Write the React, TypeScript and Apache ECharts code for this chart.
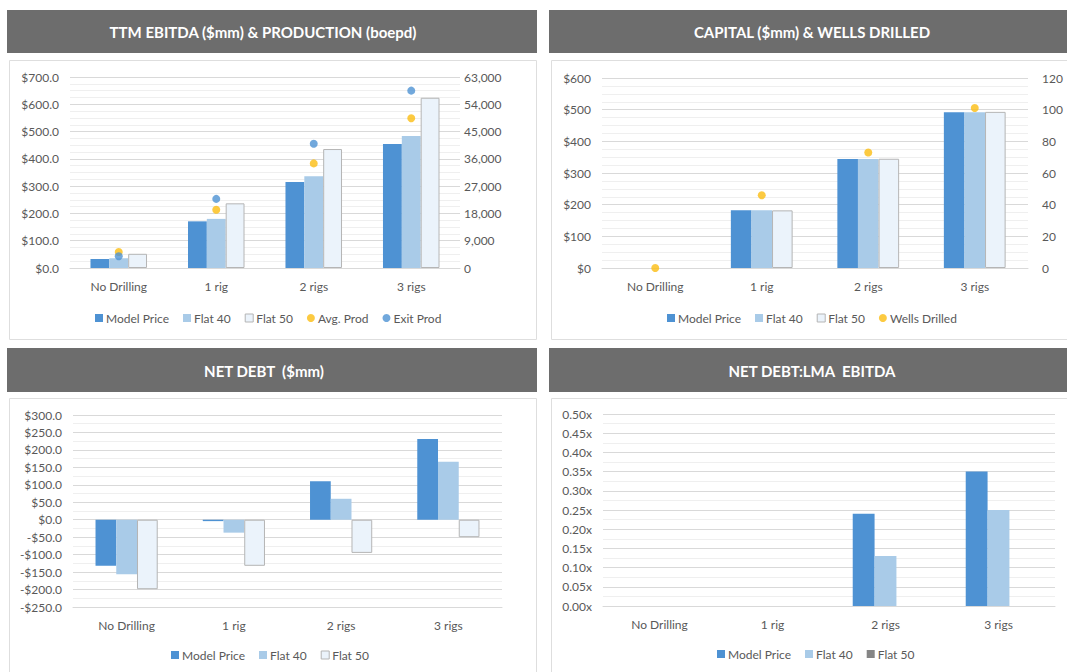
import React, { useEffect, useRef } from "react";
import * as echarts from "echarts";

// ---- Data ----
const categories = ["No Drilling", "1 rig", "2 rigs", "3 rigs"];

// Panel 1: TTM EBITDA ($mm) & Production (boepd)
const ebitdaModel = [33, 171, 315, 454];
const ebitdaFlat40 = [36, 180, 336, 484];
const ebitdaFlat50 = [52, 237, 436, 624];
const avgProd = [5300, 19200, 34500, 49400];
const exitProd = [3850, 22800, 41000, 58500];

// Panel 2: Capital ($mm) & Wells drilled
const capModel = [0, 182, 344, 492];
const capFlat40 = [0, 182, 344, 492];
const capFlat50 = [0, 182, 345, 493];
const wellsDrilled = [0, 46, 73, 101];

// Panel 3: Net debt ($mm)
const debtModel = [-132, -4, 110, 231];
const debtFlat40 = [-156, -37, 60, 166];
const debtFlat50 = [-199, -132, -95, -50];

// Panel 4: Net debt : LMA EBITDA
const ratioModel = [0, 0, 0.24, 0.35];
const ratioFlat40 = [0, 0, 0.13, 0.25];
const ratioFlat50 = [0, 0, 0, 0];

const titles = [
  "TTM EBITDA ($mm) & PRODUCTION (boepd)",
  "CAPITAL ($mm) & WELLS DRILLED",
  "NET DEBT  ($mm)",
  "NET DEBT:LMA  EBITDA",
];

// ---- Styles ----
const FONT = "Lato, 'Open Sans', sans-serif";
const C_MODEL = "#4e92d3";
const C_F40 = "#a9cbe8";
const C_F50 = "#ebf3fb";
const C_F50_BORDER = "#b5b5b5";
const C_GRAY50 = "#858585";
const C_AVG = "#fbbd12";
const C_EXIT = "#4e92d3";
const C_HEADER = "#6d6d6d";
const C_TEXT = "#595959";

export default function App() {
  const ref = useRef<HTMLDivElement>(null);

  useEffect(() => {
    if (!ref.current) return;
    const chart = echarts.init(ref.current, undefined, { renderer: "svg" });

    const grids = [
      { left: 70, top: 77, width: 390, height: 191 },
      { left: 602, top: 78, width: 426, height: 190 },
      { left: 73, top: 415, width: 429, height: 192 },
      { left: 603, top: 414, width: 452, height: 192 },
    ];

    const xAxis = grids.map((_, i) => ({
      type: "category",
      gridIndex: i,
      data: categories,
      axisTick: { show: false },
      axisLine: { onZero: false, lineStyle: { color: "#d9d9d9" } },
      axisLabel: { color: C_TEXT, fontSize: 12, fontFamily: FONT, margin: 12 },
      splitLine: { show: false },
    }));

    const leftY = (
      gridIndex: number,
      min: number,
      max: number,
      interval: number,
      minorSplit: number,
      formatter: (v: number) => string
    ) => ({
      type: "value",
      gridIndex,
      min,
      max,
      interval,
      axisLine: { show: false },
      axisTick: { show: false },
      axisLabel: { color: C_TEXT, fontSize: 12, fontFamily: FONT, margin: 11, formatter },
      splitLine: { lineStyle: { color: "#d9d9d9" } },
      minorTick: { show: false, splitNumber: minorSplit },
      minorSplitLine: { show: true, lineStyle: { color: "#efefef" } },
    });

    const rightY = (
      gridIndex: number,
      min: number,
      max: number,
      interval: number,
      margin: number,
      formatter: (v: number) => string
    ) => ({
      type: "value",
      gridIndex,
      position: "right",
      min,
      max,
      interval,
      axisLine: { show: false },
      axisTick: { show: false },
      splitLine: { show: false },
      axisLabel: { color: C_TEXT, fontSize: 12, fontFamily: FONT, margin, formatter },
    });

    const yAxis = [
      leftY(0, 0, 700, 100, 4, (v) => "$" + v.toFixed(1)),
      rightY(0, 0, 63000, 9000, 4, (v) => v.toLocaleString("en-US")),
      leftY(1, 0, 600, 100, 4, (v) => "$" + v),
      rightY(1, 0, 120, 20, 14, (v) => String(v)),
      leftY(2, -250, 300, 50, 2, (v) =>
        v < 0 ? "-$" + Math.abs(v).toFixed(1) : "$" + v.toFixed(1)
      ),
      leftY(3, 0, 0.5, 0.05, 2, (v) => v.toFixed(2) + "x"),
    ];

    // zero-height bars are not drawn (avoids a stray border line)
    const nz = (arr: number[]) => arr.map((v) => (v === 0 ? "-" : v));

    const bar = (name: string, data: number[], x: number, y: number, color: string, border?: string) => ({
      type: "bar",
      name,
      data: nz(data),
      xAxisIndex: x,
      yAxisIndex: y,
      barGap: "0%",
      barCategoryGap: "42%",
      itemStyle: border
        ? { color, borderColor: border, borderWidth: 1 }
        : { color },
    });

    const dots = (name: string, data: number[], x: number, y: number, color: string) => ({
      type: "scatter",
      name,
      data,
      xAxisIndex: x,
      yAxisIndex: y,
      symbol: "circle",
      symbolSize: 8,
      itemStyle: { color },
      z: 5,
    });

    const series = [
      bar("Model Price", ebitdaModel, 0, 0, C_MODEL),
      bar("Flat 40", ebitdaFlat40, 0, 0, C_F40),
      bar("Flat 50", ebitdaFlat50, 0, 0, C_F50, C_F50_BORDER),
      dots("Avg. Prod", avgProd, 0, 1, C_AVG),
      dots("Exit Prod", exitProd, 0, 1, C_EXIT),

      bar("Model Price", capModel, 1, 2, C_MODEL),
      bar("Flat 40", capFlat40, 1, 2, C_F40),
      bar("Flat 50", capFlat50, 1, 2, C_F50, C_F50_BORDER),
      dots("Wells Drilled", wellsDrilled, 1, 3, C_AVG),

      bar("Model Price", debtModel, 2, 4, C_MODEL),
      bar("Flat 40", debtFlat40, 2, 4, C_F40),
      bar("Flat 50", debtFlat50, 2, 4, C_F50, C_F50_BORDER),

      bar("Model Price", ratioModel, 3, 5, C_MODEL),
      bar("Flat 40", ratioFlat40, 3, 5, C_F40),
      bar("Flat 50", ratioFlat50, 3, 5, C_GRAY50),
    ];

    const sq = (name: string, color: string, border?: string) => ({
      name,
      icon: "rect",
      itemStyle: border ? { color, borderColor: border, borderWidth: 1 } : { color, borderWidth: 0 },
    });
    const dot = (name: string, color: string) => ({
      name,
      icon: "circle",
      itemStyle: { color, borderWidth: 0 },
    });

    const legendBase = {
      orient: "horizontal",
      itemWidth: 8,
      itemHeight: 8,
      itemGap: 14,
      selectedMode: false,
      textStyle: { color: C_TEXT, fontSize: 12, fontFamily: FONT, padding: [0, 0, 0, -2] },
    };

    const legend = [
      {
        ...legendBase,
        left: 90,
        top: 307,
        data: [
          sq("Model Price", C_MODEL),
          sq("Flat 40", C_F40),
          sq("Flat 50", C_F50, C_F50_BORDER),
          dot("Avg. Prod", C_AVG),
          dot("Exit Prod", C_EXIT),
        ],
      },
      {
        ...legendBase,
        left: 662,
        top: 307,
        data: [
          sq("Model Price", C_MODEL),
          sq("Flat 40", C_F40),
          sq("Flat 50", C_F50, C_F50_BORDER),
          dot("Wells Drilled", C_AVG),
        ],
      },
      {
        ...legendBase,
        left: 166,
        top: 644,
        data: [sq("Model Price", C_MODEL), sq("Flat 40", C_F40), sq("Flat 50", C_F50, C_F50_BORDER)],
      },
      {
        ...legendBase,
        left: 712,
        top: 643,
        data: [sq("Model Price", C_MODEL), sq("Flat 40", C_F40), sq("Flat 50", C_GRAY50)],
      },
    ];

    const headers = [
      { x: 7, y: 10, w: 530, h: 43, tx: 263, ty: 32 },
      { x: 549, y: 10, w: 530, h: 43, tx: 812, ty: 32 },
      { x: 7, y: 348, w: 530, h: 44, tx: 264, ty: 371 },
      { x: 549, y: 348, w: 530, h: 44, tx: 812, ty: 371 },
    ];
    const bodies = [
      { x: 9.5, y: 60.5, w: 527, h: 279 },
      { x: 551.5, y: 60.5, w: 530, h: 279 },
      { x: 9.5, y: 398.5, w: 527, h: 290 },
      { x: 551.5, y: 398.5, w: 530, h: 290 },
    ];

    const graphic: any[] = [];
    bodies.forEach((b) => {
      graphic.push({
        type: "rect",
        silent: true,
        shape: { x: b.x, y: b.y, width: b.w, height: b.h },
        style: { fill: "none", stroke: "#dedede", lineWidth: 1 },
      });
    });
    headers.forEach((h, i) => {
      graphic.push({
        type: "rect",
        silent: true,
        shape: { x: h.x, y: h.y, width: h.w, height: h.h },
        style: { fill: C_HEADER },
      });
      graphic.push({
        type: "text",
        silent: true,
        x: h.tx,
        y: h.ty,
        style: {
          text: titles[i],
          fill: "#ffffff",
          fontSize: 15,
          fontWeight: "bold",
          fontFamily: FONT,
          align: "center",
          verticalAlign: "middle",
        },
      });
    });

    chart.setOption({
      animation: false,
      backgroundColor: "#ffffff",
      grid: grids,
      xAxis,
      yAxis,
      series,
      legend,
      graphic,
    });

    return () => chart.dispose();
  }, []);

  return (
    <div
      ref={ref}
      style={{ position: "fixed", left: 0, top: 0, width: 1067, height: 672 }}
    />
  );
}
